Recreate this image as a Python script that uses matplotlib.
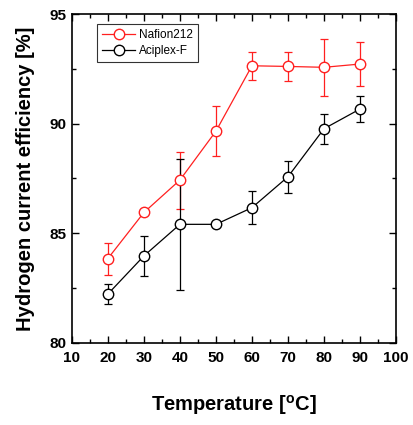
"""
Hydrogen current efficiency vs temperature for two membranes
"""

import matplotlib
matplotlib.use('Agg')
import matplotlib.pyplot as plt
from matplotlib.ticker import MultipleLocator

plt.rcParams['font.family'] = ['Liberation Sans', 'DejaVu Sans']
plt.rcParams['mathtext.fontset'] = 'custom'
plt.rcParams['mathtext.rm'] = 'Liberation Sans:bold'
plt.rcParams['mathtext.bf'] = 'Liberation Sans:bold'

# Data
temperature = [20, 30, 40, 50, 60, 70, 80, 90]
nafion = [83.85, 85.95, 87.43, 89.66, 92.64, 92.61, 92.57, 92.72]
nafion_err = [0.73, 0.08, 1.3, 1.13, 0.65, 0.67, 1.3, 1.0]
aciplex = [82.23, 83.97, 85.41, 85.41, 86.17, 87.58, 89.77, 90.67]
aciplex_err = [0.47, 0.9, 3.0, 0.08, 0.75, 0.73, 0.68, 0.6]

fig = plt.figure(figsize=(4.13, 4.25), dpi=100)
ax = fig.add_axes([0.174, 0.193, 0.785, 0.774])

style = dict(marker='o', markersize=7.5, markerfacecolor='white',
             linewidth=0.9, capsize=3, elinewidth=0.9, capthick=0.9)
c1 = ax.errorbar(temperature, nafion, yerr=nafion_err, color='#ff2020',
                 markeredgecolor='#ff2020', label='Nafion212', **style)
c2 = ax.errorbar(temperature, aciplex, yerr=aciplex_err, color='black',
                 markeredgecolor='black', label='Aciplex-F', **style)

# Format the plot
ax.set_xlim(10, 100)
ax.set_ylim(80, 95)
ax.xaxis.set_major_locator(MultipleLocator(10))
ax.xaxis.set_minor_locator(MultipleLocator(5))
ax.yaxis.set_major_locator(MultipleLocator(5))
ax.yaxis.set_minor_locator(MultipleLocator(2.5))
ax.tick_params(which='both', direction='in', top=True, right=True, width=1)
ax.tick_params(which='major', length=5, labelsize=11)
ax.tick_params(axis='x', which='major', pad=6)
ax.tick_params(axis='y', which='major', pad=4)
ax.tick_params(which='minor', length=3)
for lab in ax.get_xticklabels() + ax.get_yticklabels():
    lab.set_fontweight('bold')
for s in ax.spines.values():
    s.set_linewidth(1.2)

ax.set_xlabel('Temperature [$^\\mathrm{o}$C]', fontsize=14.5, fontweight='bold', labelpad=20)
ax.set_ylabel('Hydrogen current efficiency [%]', fontsize=14.5, fontweight='bold', labelpad=10)

# legend shows only line + marker, no error bar
leg = ax.legend([c1[0], c2[0]], ['Nafion212', 'Aciplex-F'],
                loc='upper left', bbox_to_anchor=(0.077, 0.97), borderaxespad=0,
                fontsize=8.5, frameon=True, fancybox=False, edgecolor='black',
                handlelength=2.8, handletextpad=0.3, borderpad=0.45, labelspacing=0.3)
leg.get_frame().set_linewidth(0.8)

plt.savefig('out.png', dpi=100)
